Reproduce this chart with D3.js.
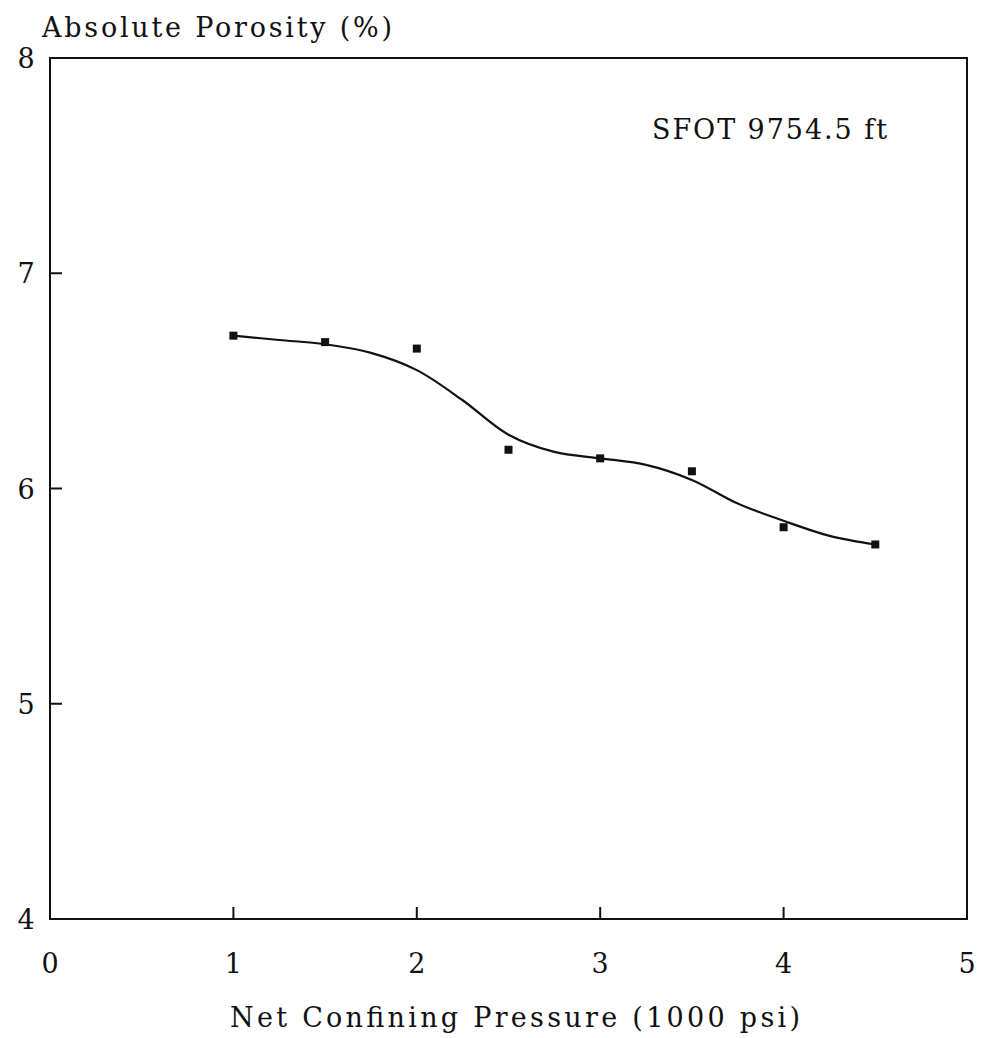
<!DOCTYPE html>
<html lang="en">
<head>
  <meta charset="UTF-8">
  <title>Absolute Porosity vs Net Confining Pressure</title>
  <script src="https://d3js.org/d3.v7.min.js"></script>
  <style>
    body {
      margin: 0;
      background: #fff;
    }
    svg {
      display: block;
    }
    text {
      font-family: "DejaVu Serif", "Liberation Serif", serif;
      fill: #111;
    }
  </style>
</head>
<body>
  <svg></svg>
  <script>
    // measured points
    const pressure = [1, 1.5, 2, 2.5, 3, 3.5, 4, 4.5];
    const porosity = [6.71, 6.68, 6.65, 6.18, 6.14, 6.08, 5.82, 5.74];

    // fitted curve
    const fitPressure = [1, 1.25, 1.5, 1.75, 2, 2.25, 2.5, 2.75, 3, 3.25, 3.5, 3.75, 4, 4.25, 4.5];
    const fitPorosity = [6.71, 6.69, 6.67, 6.63, 6.55, 6.41, 6.25, 6.17, 6.14, 6.11, 6.04, 5.93, 5.85, 5.78, 5.74];

    const xTicks = [0, 1, 2, 3, 4, 5];
    const yTicks = [4, 5, 6, 7, 8];

    const width = 982, height = 1038;
    const plotLeft = 50, plotRight = 967, plotTop = 58, plotBottom = 919;

    const svg = d3.select("svg")
      .attr("width", width)
      .attr("height", height);

    const x = d3.scaleLinear().domain([0, 5]).range([plotLeft, plotRight]);
    const y = d3.scaleLinear().domain([4, 8]).range([plotBottom, plotTop]);

    // frame
    svg.append("rect")
      .attr("x", plotLeft)
      .attr("y", plotTop)
      .attr("width", plotRight - plotLeft)
      .attr("height", plotBottom - plotTop)
      .attr("fill", "none")
      .attr("stroke", "#111")
      .attr("stroke-width", 2);

    // x ticks (inward)
    svg.append("g")
      .selectAll("line")
      .data(xTicks.slice(1, -1))
      .join("line")
      .attr("x1", d => x(d)).attr("x2", d => x(d))
      .attr("y1", plotBottom).attr("y2", plotBottom - 12)
      .attr("stroke", "#111")
      .attr("stroke-width", 2);

    svg.append("g")
      .selectAll("text")
      .data(xTicks)
      .join("text")
      .attr("x", d => x(d))
      .attr("y", 973)
      .attr("text-anchor", "middle")
      .attr("font-size", 27)
      .text(d => d);

    // y ticks (inward)
    svg.append("g")
      .selectAll("line")
      .data(yTicks.slice(1, -1))
      .join("line")
      .attr("x1", plotLeft).attr("x2", plotLeft + 12)
      .attr("y1", d => y(d)).attr("y2", d => y(d))
      .attr("stroke", "#111")
      .attr("stroke-width", 2);

    svg.append("g")
      .selectAll("text")
      .data(yTicks)
      .join("text")
      .attr("x", 26)
      .attr("y", d => y(d) + 10)
      .attr("text-anchor", "middle")
      .attr("font-size", 27)
      .text(d => d);

    // axis titles
    svg.append("text")
      .attr("x", 42)
      .attr("y", 37)
      .attr("font-size", 27)
      .attr("textLength", 350)
      .attr("lengthAdjust", "spacing")
      .text("Absolute Porosity (%)");

    svg.append("text")
      .attr("x", 230)
      .attr("y", 1027)
      .attr("font-size", 27)
      .attr("textLength", 570)
      .attr("lengthAdjust", "spacing")
      .text("Net Confining Pressure (1000 psi)");

    svg.append("text")
      .attr("x", 652)
      .attr("y", 139)
      .attr("font-size", 27)
      .attr("textLength", 235)
      .attr("lengthAdjust", "spacing")
      .text("SFOT 9754.5 ft");

    // fitted curve
    const line = d3.line()
      .x(d => x(d[0]))
      .y(d => y(d[1]))
      .curve(d3.curveCatmullRom.alpha(0.5));

    svg.append("path")
      .datum(fitPressure.map((p, i) => [p, fitPorosity[i]]))
      .attr("d", line)
      .attr("fill", "none")
      .attr("stroke", "#111")
      .attr("stroke-width", 2.2);

    // markers
    const s = 8;
    svg.append("g")
      .selectAll("rect")
      .data(pressure.map((p, i) => [p, porosity[i]]))
      .join("rect")
      .attr("x", d => x(d[0]) - s / 2)
      .attr("y", d => y(d[1]) - s / 2)
      .attr("width", s)
      .attr("height", s)
      .attr("fill", "#111");
  </script>
</body>
</html>
